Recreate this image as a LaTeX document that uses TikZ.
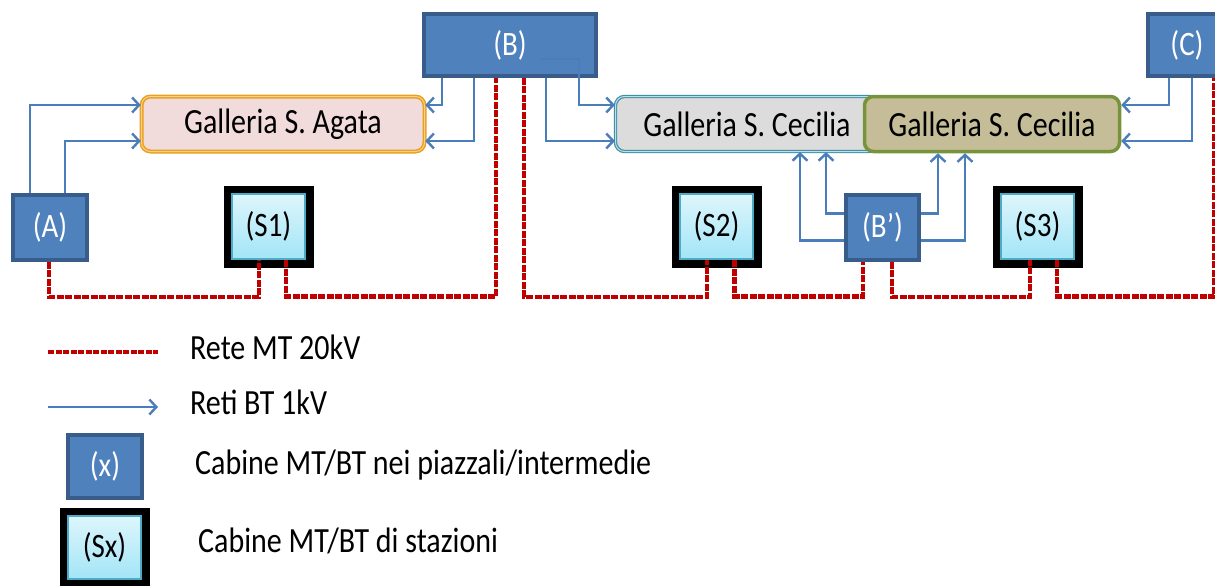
\documentclass[tikz,border=0pt]{standalone}
\usepackage{fontspec}
\usepackage{graphicx}
\setmainfont{Carlito}
\usetikzlibrary{arrows.meta}
\newcommand{\vst}[1]{\scalebox{1}[1.18]{#1}}
\definecolor{cabfill}{HTML}{4F81BD}
\definecolor{cabdraw}{HTML}{385D8A}
\definecolor{mtred}{HTML}{C00000}
\definecolor{btblue}{HTML}{4A7EBB}
\definecolor{stztop}{HTML}{DDF6FC}
\definecolor{stzbot}{HTML}{A3E5F7}
\definecolor{stzdraw}{HTML}{4BACC6}
\definecolor{agfill}{HTML}{F2DCDB}
\definecolor{agdraw}{HTML}{E8A020}
\definecolor{agdouble}{HTML}{FAD08A}
\definecolor{cgfill}{HTML}{DCDCDC}
\definecolor{cgdraw}{HTML}{3F8FA6}
\definecolor{cgdouble}{HTML}{C0E0EA}
\definecolor{cofill}{HTML}{C4BD97}
\definecolor{codraw}{HTML}{77933C}
\begin{document}
\begin{tikzpicture}[x=1pt,y=-1pt,
  cab/.style={rectangle, fill=cabfill, draw=cabdraw, line width=3.5pt, text=white,
    font=\fontsize{29}{30}\selectfont, inner sep=0pt},
  stz/.style={rectangle, preaction={draw=black, line width=17pt}, top color=stztop,
    bottom color=stzbot, draw=stzdraw, line width=2.5pt, text=black,
    font=\fontsize{29}{30}\selectfont, inner sep=0pt},
  gal/.style={rectangle, rounded corners=9pt, font=\fontsize{30}{32}\selectfont, inner sep=0pt},
  mt/.style={draw=mtred, line width=4.5pt, dash pattern=on 7pt off 1.5pt},
  bt/.style={draw=btblue, line width=2.8pt, -{Straight Barb[length=7pt,width=15pt,line width=2.4pt]}},
  legtext/.style={anchor=west, font=\fontsize{30}{32}\selectfont, inner sep=0pt}
]
\useasboundingbox (0,0) rectangle (1215,586);

% galleries
\node[gal, fill=agfill, draw=agdraw, line width=1.5pt, double=agdouble, double distance=1pt,
  minimum width=283pt, minimum height=55pt] (Agata) at (283,124) {\vst{Galleria S. Agata}};
\node[gal, fill=cgfill, draw=cgdraw, line width=1.2pt, double=cgdouble, double distance=1pt,
  minimum width=263pt, minimum height=55pt] (CecG) at (747,124) {};
\node[font=\fontsize{30}{32}\selectfont, inner sep=0pt] (CecGt) at (747,124) {\vst{Galleria S. Cecilia}};
\node[gal, fill=cofill, draw=codraw, line width=3.5pt,
  minimum width=255pt, minimum height=55pt] (CecO) at (992,124) {\vst{Galleria S. Cecilia}};

% cabins
\node[cab, minimum width=172pt, minimum height=62pt] (B) at (510,45) {\vst{(B)}};
\node[cab, minimum width=78pt, minimum height=62pt] (C) at (1187,45) {\vst{(C)}};
\node[cab, minimum width=74pt, minimum height=65pt] (A) at (50,227.5) {\vst{(A)}};
\node[cab, minimum width=73pt, minimum height=65pt] (Bp) at (882.5,227.5) {\vst{(B’)}};
\node[stz, minimum width=73pt, minimum height=65pt] (S1) at (268.5,226.5) {\vst{(S1)}};
\node[stz, minimum width=73pt, minimum height=65pt] (S2) at (716.5,226.5) {\vst{(S2)}};
\node[stz, minimum width=73pt, minimum height=65pt] (S3) at (1037.5,226.5) {\vst{(S3)}};

% BT arrows
\draw[bt] ([xshift=-20pt]A.north) |- ([yshift=19pt]Agata.west);
\draw[bt] ([xshift=15pt]A.north) |- ([yshift=-17pt]Agata.west);
\draw[bt] ([xshift=-68pt]B.south) |- ([yshift=19pt]Agata.east);
\draw[bt] ([xshift=-36pt]B.south) |- ([yshift=-17pt]Agata.east);
\draw[bt] ([xshift=36pt]B.south) |- ([yshift=-17pt]CecG.west);
\draw[bt] ([xshift=31pt,yshift=-14pt]B.center) -- ++(38,0) |- ([yshift=19pt]CecG.west);
\draw[bt] ([xshift=-18pt]C.south) |- ([yshift=19pt]CecO.east);
\draw[bt] ([xshift=5pt]C.south) |- ([yshift=-17pt]CecO.east);
\draw[bt] ([yshift=14pt]Bp.west) -| ([xshift=79pt]CecG.south);
\draw[bt] ([yshift=-13pt]Bp.west) -| ([xshift=53pt]CecG.south);
\draw[bt] ([yshift=14pt]Bp.east) -| ([xshift=-54pt]CecO.south);
\draw[bt] ([yshift=-13pt]Bp.east) -| ([xshift=-27pt]CecO.south);

% MT network
\draw[mt] ([xshift=-1pt]A.south) -- ++(0,35) -| ([xshift=-9.5pt]S1.south);
\draw[mt] ([xshift=17.5pt]S1.south) -- ++(0,36) -| ([xshift=-14pt]B.south);
\draw[mt] ([xshift=14pt]B.south) -- ++(0,219) -| ([xshift=-9.5pt]S2.south);
\draw[mt] ([xshift=18pt]S2.south) -- ++(0,36) -| ([xshift=-19.5pt]Bp.south);
\draw[mt] ([xshift=9.5pt]Bp.south) -- ++(0,35) -| ([xshift=-7.5pt]S3.south);
\draw[mt] ([xshift=19.5pt]S3.south) -- ++(0,36) -| ([xshift=27pt]C.south);

% legend
\coordinate (l1a) at (48,352);
\coordinate (l1b) at (158,352);
\draw[mt, line width=3.5pt, dash pattern=on 6pt off 1.5pt] (l1a) -- (l1b);
\node[legtext] (t1) at (190,347) {\vst{Rete MT 20kV}};
\coordinate (l2a) at (48,407);
\coordinate (l2b) at (158,407);
\draw[bt] (l2a) -- (l2b);
\node[legtext] (t2) at (190,402) {\vst{Reti BT 1kV}};
\node[cab, minimum width=74pt, minimum height=63pt] (X) at (105,466.5) {\vst{(x)}};
\node[legtext] (t3) at (195,465) {\vst{Cabine MT/BT nei piazzali/intermedie}};
\node[stz, minimum width=73pt, minimum height=63pt] (SX) at (104.5,547.5) {\vst{(Sx)}};
\node[legtext] (t4) at (198,541) {\vst{Cabine MT/BT di stazioni}};
\end{tikzpicture}
\end{document}
